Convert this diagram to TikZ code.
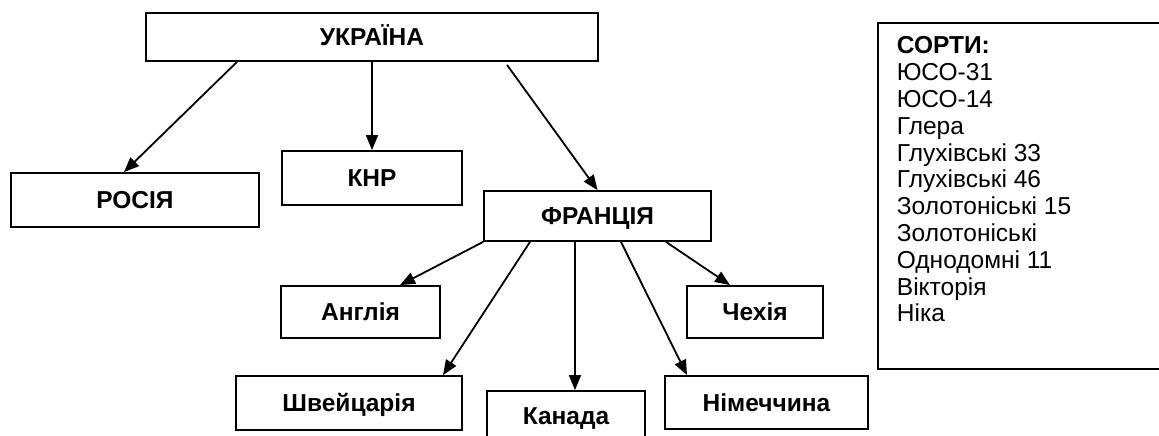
\documentclass[tikz,border=0pt]{standalone}
\usepackage{fontspec}
\setmainfont{Liberation Sans}
\usetikzlibrary{arrows.meta, positioning}

\begin{document}
\begin{tikzpicture}[
    x=1pt, y=-1pt,
    >={Triangle[length=15pt, width=12pt]},
    % --- styles ---
    % country boxes
    country/.style={draw, rectangle, line width=1.8pt, inner sep=0pt,
        font=\fontsize{24.5}{28}\selectfont\bfseries,
        text height=17.5pt, text depth=0pt},
    % list of varieties
    listbox/.style={draw, rectangle, line width=1.8pt, anchor=north west,
        inner xsep=19pt, inner ysep=0pt, font=\fontsize{24.5}{26.8}\selectfont},
    % arrows
    arrow/.style={->, line width=1.8pt}
]

\useasboundingbox (0,0) rectangle (1159,436);

% --- 1. Top level ---
\node[country, minimum width=452pt, minimum height=48pt] (Ukr) at (372,37) {УКРАЇНА};

% --- 2. Second level ---
\node[country, minimum width=248pt, minimum height=54pt] (Ros) at (135,200) {РОСІЯ};
\node[country, minimum width=180pt, minimum height=54pt] (Knr) at (372,178) {КНР};
\node[country, minimum width=227pt, minimum height=50pt] (Fra) at (597.5,216) {ФРАНЦІЯ};

% --- 3. Third level (from France) ---
\node[country, minimum width=159pt, minimum height=52pt] (Ang) at (360.5,312) {Англія};
\node[country, minimum width=136pt, minimum height=52pt] (Che) at (755,312) {Чехія};
\node[country, minimum width=226pt, minimum height=54pt] (Shv) at (349,403) {Швейцарія};
\node[country, minimum width=158pt, minimum height=50pt] (Kan) at (566,416) {Канада};
\node[country, minimum width=203pt, minimum height=53pt] (Nim) at (766.5,402.5) {Німеччина};

% --- 4. Varieties ---
\node[listbox] (Sorts) at (877,22) {\parbox[t][346pt][t]{250pt}{%
    \rule{0pt}{31pt}\textbf{СОРТИ:}\\
    ЮСО-31\\
    ЮСО-14\\
    Глера\\
    Глухівські 33\\
    Глухівські 46\\
    Золотоніські 15\\
    Золотоніські\\
    Однодомні 11\\
    Вікторія\\
    Ніка}};

% --- 5. Arrows ---
\draw[arrow] ([xshift=-135pt]Ukr.south) -- ([xshift=-11pt]Ros.north);
\draw[arrow] (Ukr.south) -- (Knr.north);
\draw[arrow] ([xshift=135pt, yshift=-3pt]Ukr.south) -- (Fra.north);

\draw[arrow] (Fra.south west) -- ([xshift=39.5pt]Ang.north);
\draw[arrow] ([xshift=-67.5pt]Fra.south) -- ([xshift=94pt]Shv.north);
\draw[arrow] ([xshift=-22.5pt]Fra.south) -- ([xshift=9pt]Kan.north);
\draw[arrow] ([xshift=23.5pt]Fra.south) -- ([xshift=-79.5pt]Nim.north);
\draw[arrow] ([xshift=68.5pt]Fra.south) -- ([xshift=-25pt]Che.north);

\end{tikzpicture}
\end{document}
